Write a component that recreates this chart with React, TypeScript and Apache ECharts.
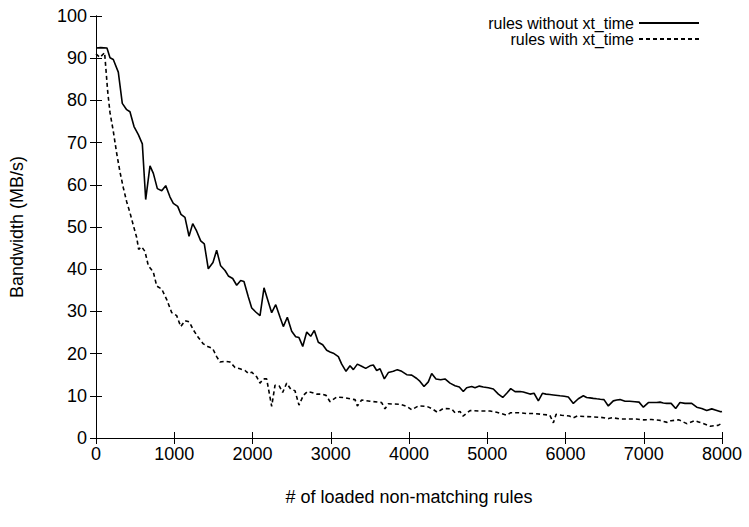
import React, { useEffect, useRef } from "react";
import * as echarts from "echarts";

const xTicks = [0, 1000, 2000, 3000, 4000, 5000, 6000, 7000, 8000];
const yTicks = [0, 10, 20, 30, 40, 50, 60, 70, 80, 90, 100];

const seriesNames = ["rules without xt_time", "rules with xt_time"];

const withoutX = [0, 60, 140, 179, 221, 285, 336, 392, 434, 486, 541, 592, 635, 690, 733, 784, 840, 891, 946, 988, 1044, 1086, 1137, 1189, 1236, 1287, 1338, 1384, 1435, 1495, 1542, 1593, 1649, 1691, 1747, 1798, 1849, 1891, 1947, 1990, 2045, 2096, 2147, 2190, 2245, 2297, 2352, 2394, 2445, 2501, 2552, 2594, 2642, 2693, 2744, 2790, 2841, 2897, 2948, 2991, 3033, 3097, 3140, 3195, 3246, 3289, 3340, 3395, 3447, 3502, 3544, 3587, 3630, 3685, 3736, 3800, 3851, 3907, 3971, 4035, 4099, 4141, 4192, 4247, 4290, 4345, 4405, 4460, 4524, 4588, 4643, 4694, 4737, 4801, 4844, 4899, 4950, 5014, 5078, 5142, 5198, 5249, 5300, 5355, 5419, 5461, 5546, 5598, 5653, 5705, 5751, 5800, 5845, 5930, 5985, 6036, 6100, 6164, 6228, 6270, 6313, 6355, 6399, 6445, 6492, 6547, 6611, 6655, 6697, 6761, 6820, 6888, 6940, 6995, 7059, 7110, 7165, 7208, 7250, 7293, 7350, 7408, 7463, 7527, 7570, 7613, 7677, 7741, 7805, 7869, 7924, 7984, 8000];
const withoutY = [92.4, 92.5, 92.4, 90.1, 89.7, 86.7, 79.3, 77.8, 77.3, 73.8, 71.9, 69.7, 56.5, 64.5, 62.7, 59.1, 58.6, 59.8, 57.1, 55.6, 54.9, 53, 52.3, 47.8, 50.8, 49, 46.7, 46, 40.1, 41.6, 44.5, 40.8, 39.7, 38.4, 37.8, 36.2, 37.3, 37.1, 33.4, 30.8, 29.8, 29, 35.6, 33, 29.7, 31.6, 28.6, 26.4, 28.6, 25.3, 24, 23.8, 21.7, 25.1, 24.1, 25.5, 22.7, 22.1, 20.8, 20.4, 20.1, 19.3, 17.5, 15.8, 17.1, 16.2, 17.5, 17, 16.5, 17.1, 17.3, 16, 16.4, 14, 15.5, 15.8, 16.2, 15.8, 15, 14.9, 14.1, 13.4, 12.2, 13.3, 15.3, 14, 13.8, 14, 13, 12.4, 12.1, 11, 11.9, 12.2, 11.9, 12.3, 12.1, 11.9, 11.6, 10.4, 9.6, 10.6, 11.7, 11, 11, 10.9, 10.4, 10.6, 8.8, 10.6, 10.4, 10.3, 10.2, 10, 9.9, 9.7, 8.2, 9.3, 10, 9.6, 9.5, 9.4, 9.3, 9.2, 9.1, 7.6, 8.8, 9, 9.1, 8.7, 8.7, 8.6, 8.5, 7.3, 8.4, 8.4, 8.4, 8.5, 8.3, 8.2, 8.2, 7, 8.4, 8.2, 8.2, 8.2, 7.3, 7, 6.5, 6.9, 6.6, 6.2, 6.3];

const withX = [0, 50, 110, 150, 179, 221, 264, 307, 349, 392, 434, 477, 520, 545, 584, 626, 669, 700, 733, 776, 840, 904, 968, 1031, 1083, 1137, 1193, 1244, 1308, 1372, 1435, 1491, 1542, 1585, 1649, 1713, 1777, 1840, 1904, 1947, 1990, 2054, 2096, 2138, 2181, 2245, 2288, 2343, 2386, 2437, 2488, 2543, 2594, 2650, 2701, 2757, 2821, 2885, 2940, 2991, 3076, 3161, 3268, 3310, 3340, 3395, 3502, 3608, 3650, 3693, 3736, 3885, 3971, 4035, 4120, 4227, 4290, 4362, 4439, 4546, 4588, 4652, 4690, 4780, 4907, 5035, 5120, 5249, 5300, 5400, 5500, 5600, 5700, 5800, 5845, 5880, 5950, 6050, 6100, 6150, 6250, 6350, 6450, 6550, 6600, 6700, 6800, 6900, 7000, 7100, 7200, 7300, 7350, 7450, 7550, 7650, 7700, 7750, 7850, 7950, 8000];
const withY = [91, 90.2, 91.3, 82, 77.1, 72.7, 67.5, 63, 59.3, 56, 53.4, 50.4, 47.5, 44.7, 45.3, 44.2, 40.8, 40.1, 39.3, 36, 35.3, 32.8, 29.7, 29, 26.4, 27.8, 27.5, 25.6, 23.8, 22.3, 21.6, 21.2, 19.3, 18, 18.2, 18, 16.7, 16.4, 16, 15.3, 15.6, 14.5, 13, 14, 14, 7.5, 12.5, 12.3, 10.8, 13, 11.6, 11.2, 7.8, 10.1, 11, 10.8, 10.4, 10.4, 10.1, 8.6, 9.7, 9.6, 9.2, 9.1, 7.6, 9, 8.7, 8.5, 8.4, 6.9, 8.1, 8, 7.5, 6.7, 7.6, 7.5, 7, 6.1, 7, 6.9, 6, 6.3, 5.2, 6.5, 6.4, 6.4, 6.1, 5.4, 6, 6, 5.8, 5.8, 5.6, 5.4, 3.6, 5.6, 5.4, 5.2, 4.8, 5.2, 5.1, 5, 4.9, 4.6, 4.8, 4.5, 4.5, 4.5, 4.3, 4.4, 4.2, 3.7, 4.1, 4.3, 3.4, 4.1, 3.8, 3.5, 2.8, 3, 3.5];

const FONT = "Liberation Sans";
const FS = 18;
const LEGEND_FS = 16;

export default function App() {
  const ref = useRef<HTMLDivElement>(null);
  useEffect(() => {
    if (!ref.current) return;
    const chart = echarts.init(ref.current, undefined, { renderer: "svg" });
    const axisLine = { show: true, lineStyle: { color: "#000", width: 1 } };
    const tick = { show: true, inside: true, length: 6, lineStyle: { color: "#000", width: 1 } };
    chart.setOption({
      animation: false,
      backgroundColor: "#fff",
      textStyle: { fontFamily: FONT, color: "#000" },
      grid: { left: 96, right: 27, top: 16, bottom: 89, containLabel: false },
      legend: {
        orient: "vertical",
        right: 44,
        top: 10,
        align: "right",
        itemWidth: 60,
        itemHeight: 12,
        itemGap: 0,
        itemStyle: { opacity: 0 },
        textStyle: { fontFamily: FONT, fontSize: LEGEND_FS, color: "#000" },
        data: seriesNames,
      },
      xAxis: [
        {
          type: "value",
          min: 0,
          max: 8000,
          interval: 1000,
          name: "# of loaded non-matching rules",
          nameLocation: "middle",
          nameGap: 50,
          nameTextStyle: { fontFamily: FONT, fontSize: FS, color: "#000" },
          axisLine,
          axisTick: tick,
          splitLine: { show: false },
          axisLabel: {
            fontFamily: FONT,
            fontSize: FS,
            color: "#000",
            margin: 7,
            formatter: (v: number) => (xTicks.includes(v) ? String(v) : ""),
          },
        },
        {
          type: "value",
          position: "top",
          min: 0,
          max: 8000,
          interval: 1000,
          axisLine,
          axisTick: tick,
          splitLine: { show: false },
          axisLabel: { show: false },
        },
      ],
      yAxis: [
        {
          type: "value",
          min: 0,
          max: 100,
          interval: 10,
          name: "Bandwidth (MB/s)",
          nameLocation: "middle",
          nameGap: 70,
          nameTextStyle: { fontFamily: FONT, fontSize: FS, color: "#000" },
          axisLine,
          axisTick: tick,
          splitLine: { show: false },
          axisLabel: {
            fontFamily: FONT,
            fontSize: FS,
            color: "#000",
            margin: 9,
            formatter: (v: number) => (yTicks.includes(v) ? String(v) : ""),
          },
        },
        {
          type: "value",
          position: "right",
          min: 0,
          max: 100,
          interval: 10,
          axisLine,
          axisTick: tick,
          splitLine: { show: false },
          axisLabel: { show: false },
        },
      ],
      series: [
        {
          name: seriesNames[0],
          type: "line",
          data: withoutX.map((x, i) => [x, withoutY[i]]),
          symbol: "none",
          lineStyle: { color: "#000", width: 1.6, type: "solid" },
          itemStyle: { color: "#000" },
        },
        {
          name: seriesNames[1],
          type: "line",
          data: withX.map((x, i) => [x, withY[i]]),
          symbol: "none",
          lineStyle: { color: "#000", width: 1.6, type: [4, 3] },
          itemStyle: { color: "#000" },
        },
      ],
    });
    return () => chart.dispose();
  }, []);
  return <div ref={ref} style={{ width: 749, height: 527, position: "absolute", left: 0, top: 0 }} />;
}
